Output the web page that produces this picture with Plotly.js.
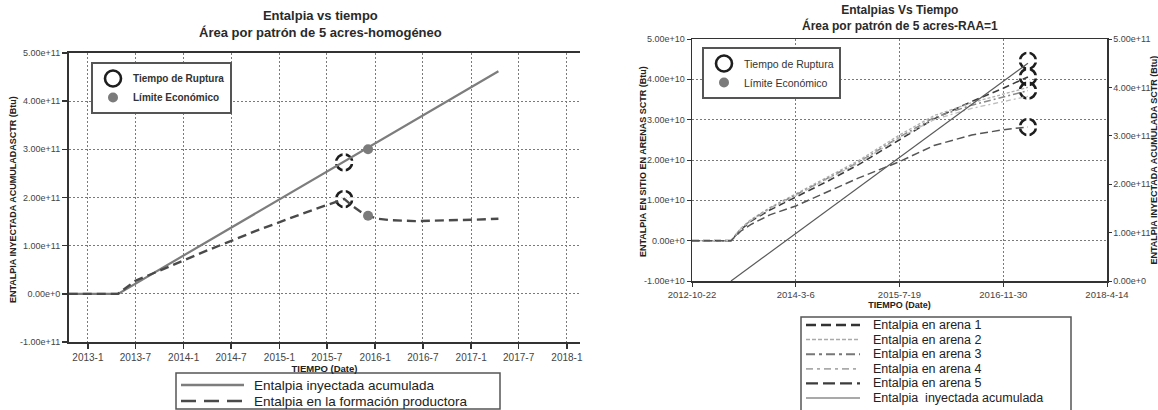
<!DOCTYPE html>
<html>
<head>
<meta charset="utf-8">
<script src="https://cdn.plot.ly/plotly-3.0.1.min.js"></script>
<style>
  html, body { margin: 0; padding: 0; background: #ffffff; }
  #chart { width: 1158px; height: 410px; }
</style>
</head>
<body>
<div id="chart"></div>
<script>
// ---------------- LEFT CHART DATA ----------------
const leftXTickVals = ['2013-01-01','2013-07-01','2014-01-01','2014-07-01','2015-01-01','2015-07-01','2016-01-01','2016-07-01','2017-01-01','2017-07-01','2018-01-01'];
const leftXTickText = ['2013-1','2013-7','2014-1','2014-7','2015-1','2015-7','2016-1','2016-7','2017-1','2017-7','2018-1'];
const leftYTickVals = [-1e11, 0, 1e11, 2e11, 3e11, 4e11, 5e11];
const leftYTickText = ['-1.00e+11','0.00e+0','1.00e+11','2.00e+11','3.00e+11','4.00e+11','5.00e+11'];

const datesInyL = ['2012-10-20','2013-04-26','2017-04-15'];
const inyL = [0, 0, 4.62e11];

const datesFormL = ['2012-10-20','2013-04-26','2013-07-01','2013-10-01','2014-01-01','2014-04-01','2014-10-01','2015-04-01','2015-09-05',
                    '2015-09-20','2015-10-10','2015-11-05','2015-12-05','2016-01-10','2016-03-01','2016-06-01','2016-10-01','2017-01-15','2017-04-15'];
const formL = [0, 0, 0.27e11, 0.48e11, 0.70e11, 0.90e11, 1.30e11, 1.67e11, 1.97e11,
               1.90e11, 1.81e11, 1.71e11, 1.62e11, 1.56e11, 1.53e11, 1.51e11, 1.52e11, 1.54e11, 1.56e11];

const rupturaDatesL = ['2015-09-05','2015-09-05'];
const rupturaValsL = [2.73e11, 1.97e11];
const limiteDatesL = ['2015-12-05','2015-12-05'];
const limiteValsL = [3.00e11, 1.62e11];

const legendNamesL = ['Entalpia inyectada acumulada','Entalpia en la formación productora'];

// ---------------- RIGHT CHART DATA ----------------
const rightXTickVals = ['2012-10-22','2014-03-06','2015-07-19','2016-11-30','2018-04-14'];
const rightXTickText = ['2012-10-22','2014-3-6','2015-7-19','2016-11-30','2018-4-14'];
const rightYTickVals = [-1e10, 0, 1e10, 2e10, 3e10, 4e10, 5e10];
const rightYTickText = ['-1.00e+10','0.00e+0','1.00e+10','2.00e+10','3.00e+10','4.00e+10','5.00e+10'];
const right2YTickVals = [0, 1e11, 2e11, 3e11, 4e11, 5e11];
const right2YTickText = ['0.00e+0','1.00e+11','2.00e+11','3.00e+11','4.00e+11','5.00e+11'];

const datesArenas = ['2012-10-22','2013-04-28','2013-06-15','2013-08-01','2013-11-01','2014-03-06','2014-08-01','2015-01-01','2015-07-19','2016-01-01','2016-07-01','2016-11-30','2017-03-29'];
const arena1 = [0, 0, 0.28e10, 0.48e10, 0.76e10, 1.08e10, 1.46e10, 1.88e10, 2.50e10, 3.02e10, 3.45e10, 3.78e10, 4.06e10];
const arena2 = [0, 0, 0.31e10, 0.52e10, 0.82e10, 1.16e10, 1.55e10, 1.98e10, 2.62e10, 3.10e10, 3.42e10, 3.63e10, 3.80e10];
const arena3 = [0, 0, 0.30e10, 0.50e10, 0.80e10, 1.13e10, 1.52e10, 1.94e10, 2.57e10, 3.05e10, 3.36e10, 3.56e10, 3.72e10];
const arena4 = [0, 0, 0.30e10, 0.50e10, 0.79e10, 1.12e10, 1.50e10, 1.92e10, 2.55e10, 3.00e10, 3.28e10, 3.45e10, 3.58e10];
const arena5 = [0, 0, 0.24e10, 0.40e10, 0.64e10, 0.86e10, 1.20e10, 1.55e10, 1.96e10, 2.36e10, 2.62e10, 2.75e10, 2.82e10];

const datesInyR = ['2013-04-28','2017-03-29'];
const inyR = [0, 4.50e11];

const rupturaDatesR = ['2017-03-29','2017-03-29','2017-03-29','2017-03-29'];
const rupturaValsR = [4.46e10, 4.06e10, 3.72e10, 2.82e10];

const legendNamesR = ['Entalpia en arena 1','Entalpia en arena 2','Entalpia en arena 3','Entalpia en arena 4','Entalpia en arena 5','Entalpia  inyectada acumulada'];

// ---------------- STYLES ----------------
const FONT = '"Liberation Sans", Arial, sans-serif';
const NARROW = '"Liberation Sans Narrow", "Arial Narrow", "Liberation Sans", sans-serif';
const W = 1158, H = 410;
const px = v => v / W;
const py = v => 1 - v / H;

const styleInyL  = {color: '#7d7d7d', width: 2.2, dash: 'solid'};
const styleFormL = {color: '#4a4a4a', width: 2.4, dash: '9px,5px'};
const stylesArenas = [
  {color: '#3c3c3c', width: 1.6, dash: '7px,4px'},
  {color: '#b0b0b0', width: 1.3, dash: '3px,2px'},
  {color: '#8a8a8a', width: 1.5, dash: '7px,3px,2px,3px'},
  {color: '#bdbdbd', width: 1.3, dash: '5px,3px,2px,3px'},
  {color: '#555555', width: 1.5, dash: '8px,4px'}
];
const styleInyR = {color: '#5a5a5a', width: 1.2, dash: 'solid'};

const ringMarker = {symbol: 'circle-open', size: 16, color: '#1e1e1e', line: {width: 2.6, color: '#1e1e1e'}};
const gapMarker  = {symbol: 'cross-thin-open', size: 16, color: '#ffffff', line: {width: 3.2, color: '#ffffff'}};
const econMarker = {symbol: 'circle', size: 10, color: '#7b7b7b', line: {width: 0}};

const traces = [];
// left
traces.push({x: rupturaDatesL, y: rupturaValsL, xaxis: 'x', yaxis: 'y', type: 'scatter', mode: 'markers',
  marker: ringMarker, name: 'Tiempo de Ruptura', legend: 'legend', hoverinfo: 'skip'});
traces.push({x: rupturaDatesL, y: rupturaValsL, xaxis: 'x', yaxis: 'y', type: 'scatter', mode: 'markers',
  marker: gapMarker, showlegend: false, hoverinfo: 'skip'});
traces.push({x: datesInyL, y: inyL, xaxis: 'x', yaxis: 'y', type: 'scatter', mode: 'lines',
  line: styleInyL, name: legendNamesL[0], showlegend: false});
traces.push({x: datesFormL, y: formL, xaxis: 'x', yaxis: 'y', type: 'scatter', mode: 'lines',
  line: styleFormL, name: legendNamesL[1], showlegend: false});
traces.push({x: limiteDatesL, y: limiteValsL, xaxis: 'x', yaxis: 'y', type: 'scatter', mode: 'markers',
  marker: econMarker, name: 'Límite Económico', legend: 'legend'});
// right
traces.push({x: rupturaDatesR, y: rupturaValsR, xaxis: 'x2', yaxis: 'y2', type: 'scatter', mode: 'markers',
  marker: ringMarker, name: 'Tiempo de Ruptura', legend: 'legend3', hoverinfo: 'skip'});
traces.push({x: rupturaDatesR, y: rupturaValsR, xaxis: 'x2', yaxis: 'y2', type: 'scatter', mode: 'markers',
  marker: gapMarker, showlegend: false, hoverinfo: 'skip'});
const arenas = [arena1, arena2, arena3, arena4, arena5];
arenas.forEach((a, i) => {
  traces.push({x: datesArenas, y: a, xaxis: 'x2', yaxis: 'y2', type: 'scatter', mode: 'lines',
    line: stylesArenas[i], name: legendNamesR[i], showlegend: false});
});
traces.push({x: [null], y: [null], xaxis: 'x2', yaxis: 'y2', type: 'scatter', mode: 'markers',
  marker: econMarker, name: 'Límite Económico', legend: 'legend3'});
traces.push({x: datesInyR, y: inyR, xaxis: 'x2', yaxis: 'y3', type: 'scatter', mode: 'lines',
  line: styleInyR, name: legendNamesR[5], showlegend: false});

// ---------------- LAYOUT ----------------
const tickFont = {family: NARROW, size: 10, color: '#444'};
const yTickFont = {family: NARROW, size: 9, color: '#444'};
const axTitleFont = {family: NARROW, size: 9.5, color: '#222', weight: 'bold'};
const gridStyle = {showgrid: true, gridcolor: '#7a7a7a', gridwidth: 1, griddash: '2px,2px'};

const layout = {
  width: W, height: H,
  margin: {l: 0, r: 0, t: 0, b: 0},
  paper_bgcolor: '#ffffff', plot_bgcolor: '#ffffff',
  showlegend: true,
  xaxis: Object.assign({
    domain: [px(69), px(580)], anchor: 'y', type: 'date',
    range: ['2012-10-21', '2018-02-20'],
    tickvals: leftXTickVals, ticktext: leftXTickText, tickfont: tickFont,
    ticks: 'outside', ticklen: 5, tickcolor: '#333', tickwidth: 1.5,
    showline: true, linecolor: '#333', linewidth: 2, mirror: true, zeroline: false,
    title: {text: 'TIEMPO (Date)', font: axTitleFont, standoff: 2}
  }, gridStyle),
  yaxis: Object.assign({
    domain: [1 - 342 / H, 1 - 53 / H], anchor: 'x',
    range: [-1e11, 5e11],
    tickvals: leftYTickVals, ticktext: leftYTickText, tickfont: yTickFont,
    ticks: 'outside', ticklen: 5, tickcolor: '#333', tickwidth: 1.5,
    showline: true, linecolor: '#333', linewidth: 2, zeroline: false
  }, gridStyle),
  xaxis2: Object.assign({
    domain: [px(692), px(1107)], anchor: 'y2', type: 'date',
    range: ['2012-10-22', '2018-04-14'],
    tickvals: rightXTickVals, ticktext: rightXTickText, tickfont: {family: NARROW, size: 9.5, color: '#444'},
    ticks: 'outside', ticklen: 4, tickcolor: '#333', tickwidth: 1,
    showline: true, linecolor: '#333', linewidth: 1.5, mirror: true, zeroline: false,
    title: {text: 'TIEMPO (Date)', font: {family: NARROW, size: 9, color: '#222', weight: 'bold'}, standoff: 1}
  }, gridStyle),
  yaxis2: Object.assign({
    domain: [1 - 281 / H, 1 - 39 / H], anchor: 'x2',
    range: [-1e10, 5e10],
    tickvals: rightYTickVals, ticktext: rightYTickText, tickfont: yTickFont,
    ticks: 'outside', ticklen: 4, tickcolor: '#333', tickwidth: 1,
    showline: true, linecolor: '#333', linewidth: 1.5, zeroline: false
  }, gridStyle),
  yaxis3: {
    overlaying: 'y2', side: 'right', anchor: 'x2',
    range: [0, 5e11],
    tickvals: right2YTickVals, ticktext: right2YTickText, tickfont: yTickFont,
    ticks: 'outside', ticklen: 3, tickcolor: '#333', tickwidth: 1,
    showline: true, linecolor: '#333', linewidth: 1.5, zeroline: false, showgrid: false
  },
  legend: {
    x: px(91), y: py(62), xanchor: 'left', yanchor: 'top',
    bgcolor: '#ffffff', bordercolor: '#555', borderwidth: 2,
    font: {family: FONT, size: 10, color: '#333', weight: 'bold'},
    itemwidth: 30, tracegroupgap: 0
  },
  legend3: {
    x: px(702), y: py(47), xanchor: 'left', yanchor: 'top',
    bgcolor: '#ffffff', bordercolor: '#555', borderwidth: 2,
    font: {family: FONT, size: 10.5, color: '#333'},
    itemwidth: 30, tracegroupgap: 0
  },
  annotations: [
    {xref: 'paper', yref: 'paper', x: px(320), y: py(23.5), xanchor: 'center', yanchor: 'middle', showarrow: false,
     text: 'Entalpia vs tiempo<br>Área por patrón de 5 acres-homogéneo',
     font: {family: FONT, size: 13, color: '#2a2a2a', weight: 'bold'}},
    {xref: 'paper', yref: 'paper', x: px(900), y: py(17.5), xanchor: 'center', yanchor: 'middle', showarrow: false,
     text: 'Entalpias Vs Tiempo<br>Área por patrón de 5 acres-RAA=1',
     font: {family: FONT, size: 12, color: '#2a2a2a', weight: 'bold'}},
    {xref: 'paper', yref: 'paper', x: px(13), y: py(200), xanchor: 'center', yanchor: 'middle', showarrow: false,
     textangle: -90, text: 'ENTALPIA INYECTADA ACUMULADASCTR (Btu)',
     font: {family: NARROW, size: 9, color: '#222', weight: 'bold'}},
    {xref: 'paper', yref: 'paper', x: px(643), y: py(162), xanchor: 'center', yanchor: 'middle', showarrow: false,
     textangle: -90, text: 'ENTALPIA EN SITIO EN ARENAS SCTR (Btu)',
     font: {family: NARROW, size: 9, color: '#222', weight: 'bold'}},
    {xref: 'paper', yref: 'paper', x: px(1153.5), y: py(160), xanchor: 'center', yanchor: 'middle', showarrow: false,
     textangle: -90, text: 'ENTALPIA INYECTADA ACUMULADA SCTR (Btu)',
     font: {family: NARROW, size: 9, color: '#222', weight: 'bold'}}
  ],
  shapes: []
};

// ---- manual bottom legends (legend boxes built from names + styles) ----
function addManualLegend(names, styles, box, lineX0, lineX1, textX, y0, dy, fontSize) {
  layout.shapes.push({type: 'rect', xref: 'paper', yref: 'paper',
    x0: px(box[0]), x1: px(box[1]), y0: py(box[3]), y1: py(box[2]),
    line: {color: '#555', width: 1.5}, fillcolor: '#ffffff', layer: 'above'});
  names.forEach((n, i) => {
    const yy = y0 + dy * i;
    layout.shapes.push({type: 'line', xref: 'paper', yref: 'paper',
      x0: px(lineX0), x1: px(lineX1), y0: py(yy), y1: py(yy),
      line: styles[i], layer: 'above'});
    layout.annotations.push({xref: 'paper', yref: 'paper', x: px(textX), y: py(yy),
      xanchor: 'left', yanchor: 'middle', showarrow: false, text: n,
      font: {family: FONT, size: fontSize, color: '#222'}});
  });
}
addManualLegend(legendNamesL,
  [{color: '#7d7d7d', width: 2.5, dash: 'solid'}, {color: '#4a4a4a', width: 2.5, dash: '15px,8px'}],
  [176, 500, 373, 409], 181, 244, 252, 385, 16, 13.5);
addManualLegend(legendNamesR,
  [{color: '#333', width: 2.4, dash: '10px,5px'},
   {color: '#aaa', width: 1.5, dash: '4px,2px'},
   {color: '#777', width: 2, dash: '9px,4px,3px,4px'},
   {color: '#aaa', width: 1.8, dash: '7px,4px,3px,4px'},
   {color: '#3c3c3c', width: 2.4, dash: '12px,5px'},
   {color: '#555', width: 1.2, dash: 'solid'}],
  [801, 1071, 317, 412], 806, 860, 871, 325, 14.6, 12.5);

Plotly.newPlot('chart', traces, layout, {displayModeBar: false, staticPlot: true});
</script>
</body>
</html>
